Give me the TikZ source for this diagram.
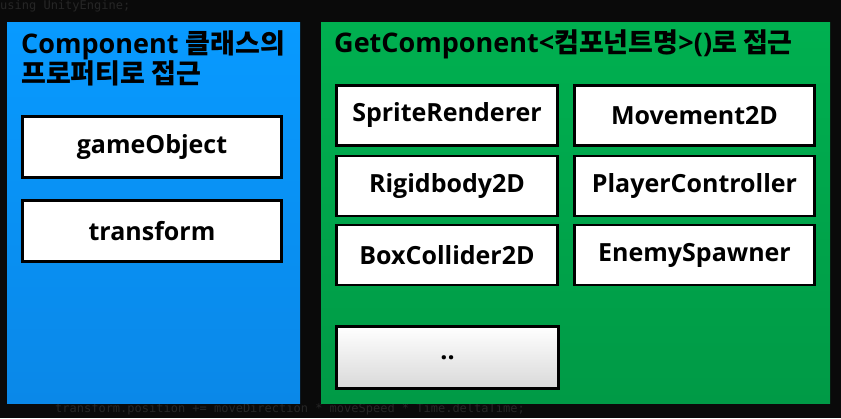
\documentclass[tikz,border=0pt]{standalone}
\usepackage{fontspec}
\setmainfont{Open Sans}
\setmonofont{DejaVu Sans Mono}
\newfontfamily\kr{Noto Sans CJK KR}
\usetikzlibrary{positioning}

\definecolor{panelblue}{RGB}{8,154,255}
\definecolor{panelbluedark}{RGB}{10,136,232}
\definecolor{panelgreen}{RGB}{0,176,80}
\definecolor{panelgreendark}{RGB}{0,154,70}
\definecolor{codegray}{RGB}{38,38,38}

\tikzset{
	compbox/.style={draw=black, line width=2.6pt, fill=white, inner sep=0pt,
		font=\fontsize{25}{30}\selectfont\bfseries},
	paneltitle/.style={anchor=north west, align=left, inner sep=0pt,
		font=\fontsize{27}{30}\selectfont\bfseries},
	codeline/.style={anchor=west, inner sep=0pt, text=codegray,
		font=\fontsize{12}{14}\selectfont\ttfamily}
}

\begin{document}
\begin{tikzpicture}[x=1pt, y=-1pt]
		
		% Background
		\fill[black!96] (0,0) rectangle (841,418);
		\useasboundingbox (0,0) rectangle (841,418);
		\node[codeline] (usingline) at (0,6) {using UnityEngine;};
		\node[codeline] (moveline) at (55,409) {transform.position += moveDirection * moveSpeed * Time.deltaTime;};
		
		% Left panel
		\shade[top color=panelblue, bottom color=panelbluedark] (7,22) rectangle (300,403);
		\node[paneltitle] (lefttitle) at (21,30) {Component {\kr 클래스의}\\{\kr 프로퍼티로 접근}};
		\node[compbox, minimum width=259pt, minimum height=61pt] (gameobj) at (152,147) {gameObject};
		\node[compbox, minimum width=259pt, minimum height=61pt] (transf) at (152,231) {transform};
		
		% Right panel
		\shade[top color=panelgreen, bottom color=panelgreendark] (321,22) rectangle (830,403);
		\node[paneltitle] (righttitle) at (334,30) {GetComponent<{\kr 컴포넌트명}>(){\kr 로 접근}};
		
		% Component boxes
		\node[compbox, minimum width=221pt, minimum height=60pt] (sprite) at (447,115.5) {SpriteRenderer};
		\node[compbox, minimum width=221pt, minimum height=60pt] (rigid) at (447,186) {Rigidbody2D};
		\node[compbox, minimum width=221pt, minimum height=60pt] (boxcol) at (447,255) {BoxCollider2D};
		\node[compbox, minimum width=240pt, minimum height=60pt] (move) at (694.5,115.5) {Movement2D};
		\node[compbox, minimum width=240pt, minimum height=60pt] (player) at (694.5,186) {PlayerController};
		\node[compbox, minimum width=240pt, minimum height=60pt] (enemy) at (694.5,255) {EnemySpawner};
		\node[compbox, minimum width=222pt, minimum height=62pt, top color=white, bottom color=black!15] (more) at (447.5,357.5) {..};
		
	\end{tikzpicture}
\end{document}
